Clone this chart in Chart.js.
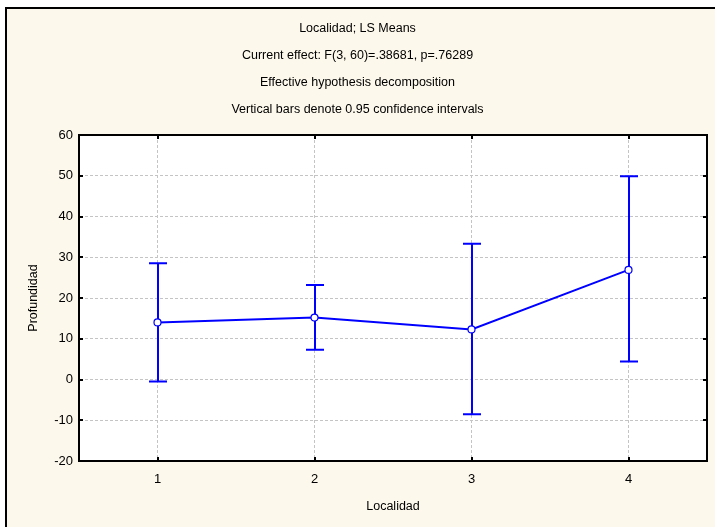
<!DOCTYPE html>
<html>
<head>
<meta charset="utf-8">
<title>Localidad; LS Means</title>
<script src="https://cdn.jsdelivr.net/npm/chart.js@4"></script>
<style>
  html, body { margin: 0; padding: 0; background: #fff; }
  canvas { display: block; }
</style>
</head>
<body>
<canvas id="lsMeans" width="715" height="527"></canvas>
<script>
// LS means of Profundidad by Localidad, with 0.95 confidence limits
const localidades = ['1', '2', '3', '4'];
const means = [14.0, 15.2, 12.3, 26.9];
const lower = [-0.5, 7.3, -8.5, 4.4];
const upper = [28.5, 23.2, 33.3, 49.9];
const yTicks = [-20, -10, 0, 10, 20, 30, 40, 50, 60];

const titleLines = [
    'Localidad; LS Means',
    'Current effect: F(3, 60)=.38681, p=.76289',
    'Effective hypothesis decomposition',
    'Vertical bars denote 0.95 confidence intervals'
];

const BLUE = '#0000ff';
const FONT = "'Liberation Sans', Arial, sans-serif";

// background, outer frame and white plot area
const backdrop = {
    id: 'backdrop',
    beforeDraw(chart) {
        const ctx = chart.ctx;
        const a = chart.chartArea;
        ctx.save();
        ctx.fillStyle = '#ffffff';
        ctx.fillRect(0, 0, chart.width, chart.height);
        ctx.fillStyle = '#fdf8ec';
        ctx.fillRect(6, 8, chart.width - 6, chart.height - 8);
        ctx.fillStyle = '#000';
        ctx.fillRect(5, 7, chart.width - 5, 2);
        ctx.fillRect(5, 7, 2, chart.height - 7);
        ctx.fillStyle = '#ffffff';
        ctx.fillRect(a.left, a.top, a.right - a.left, a.bottom - a.top);
        ctx.restore();
    }
};

// vertical confidence bars with caps, under the points
const errorBars = {
    id: 'errorBars',
    beforeDatasetsDraw(chart) {
        const ctx = chart.ctx;
        const x = chart.scales.x;
        const y = chart.scales.y;
        ctx.save();
        ctx.strokeStyle = BLUE;
        ctx.lineWidth = 2;
        localidades.forEach((_, i) => {
            const px = Math.round(x.getPixelForValue(i));
            const top = y.getPixelForValue(upper[i]);
            const bot = y.getPixelForValue(lower[i]);
            ctx.beginPath();
            ctx.moveTo(px, top);
            ctx.lineTo(px, bot);
            ctx.moveTo(px - 9, top);
            ctx.lineTo(px + 9, top);
            ctx.moveTo(px - 9, bot);
            ctx.lineTo(px + 9, bot);
            ctx.stroke();
        });
        ctx.restore();
    }
};

// box around the plot with ticks pointing inward
const plotFrame = {
    id: 'plotFrame',
    afterDraw(chart) {
        const ctx = chart.ctx;
        const a = chart.chartArea;
        const x = chart.scales.x;
        const y = chart.scales.y;
        const len = 4;
        ctx.save();
        ctx.strokeStyle = '#000';
        ctx.lineWidth = 2;
        ctx.strokeRect(a.left, a.top, a.right - a.left, a.bottom - a.top);
        ctx.beginPath();
        yTicks.forEach(v => {
            const py = Math.round(y.getPixelForValue(v));
            ctx.moveTo(a.left, py);
            ctx.lineTo(a.left + len, py);
            ctx.moveTo(a.right, py);
            ctx.lineTo(a.right - len, py);
        });
        localidades.forEach((_, i) => {
            const px = Math.round(x.getPixelForValue(i));
            ctx.moveTo(px, a.top);
            ctx.lineTo(px, a.top + len);
            ctx.moveTo(px, a.bottom);
            ctx.lineTo(px, a.bottom - len);
        });
        ctx.stroke();
        ctx.restore();
    }
};

const gridStyle = {
    color: '#c4c4c4',
    lineWidth: 1,
    drawTicks: false
};
const dotted = { display: true, color: '#000', width: 2, dash: [3, 2] };

new Chart(document.getElementById('lsMeans'), {
    type: 'line',
    data: {
        labels: localidades,
        datasets: [{
            data: means,
            borderColor: BLUE,
            borderWidth: 2,
            tension: 0,
            pointRadius: 3.5,
            pointBorderWidth: 1.2,
            pointBackgroundColor: '#ffffff',
            pointBorderColor: BLUE
        }]
    },
    options: {
        responsive: false,
        animation: false,
        devicePixelRatio: 1,
        layout: { padding: { left: 8, top: 8, right: 8, bottom: 0 } },
        plugins: {
            legend: { display: false },
            tooltip: { enabled: false },
            title: {
                display: true,
                text: titleLines,
                color: '#000',
                font: { family: FONT, size: 12.5, weight: 'normal', lineHeight: 2.16 },
                padding: { top: 7, bottom: 12 }
            }
        },
        scales: {
            x: {
                type: 'category',
                offset: true,
                grid: Object.assign({ offset: false }, gridStyle),
                border: dotted,
                ticks: {
                    color: '#000',
                    padding: 11,
                    font: { family: FONT, size: 13 }
                },
                title: {
                    display: true,
                    text: 'Localidad',
                    color: '#000',
                    font: { family: FONT, size: 12.5 },
                    padding: { top: 4, bottom: 13 }
                },
                afterFit(scale) { scale.height = 66; }
            },
            y: {
                min: -20,
                max: 60,
                grid: gridStyle,
                border: dotted,
                ticks: {
                    stepSize: 10,
                    color: '#000',
                    padding: 6,
                    font: { family: FONT, size: 13 }
                },
                afterBuildTicks(scale) {
                    scale.ticks = yTicks.map(v => ({ value: v }));
                },
                title: {
                    display: true,
                    text: 'Profundidad',
                    color: '#000',
                    font: { family: FONT, size: 12.5 },
                    padding: 18
                },
                afterFit(scale) { scale.width = 71; }
            }
        }
    },
    plugins: [backdrop, errorBars, plotFrame]
});
</script>
</body>
</html>
